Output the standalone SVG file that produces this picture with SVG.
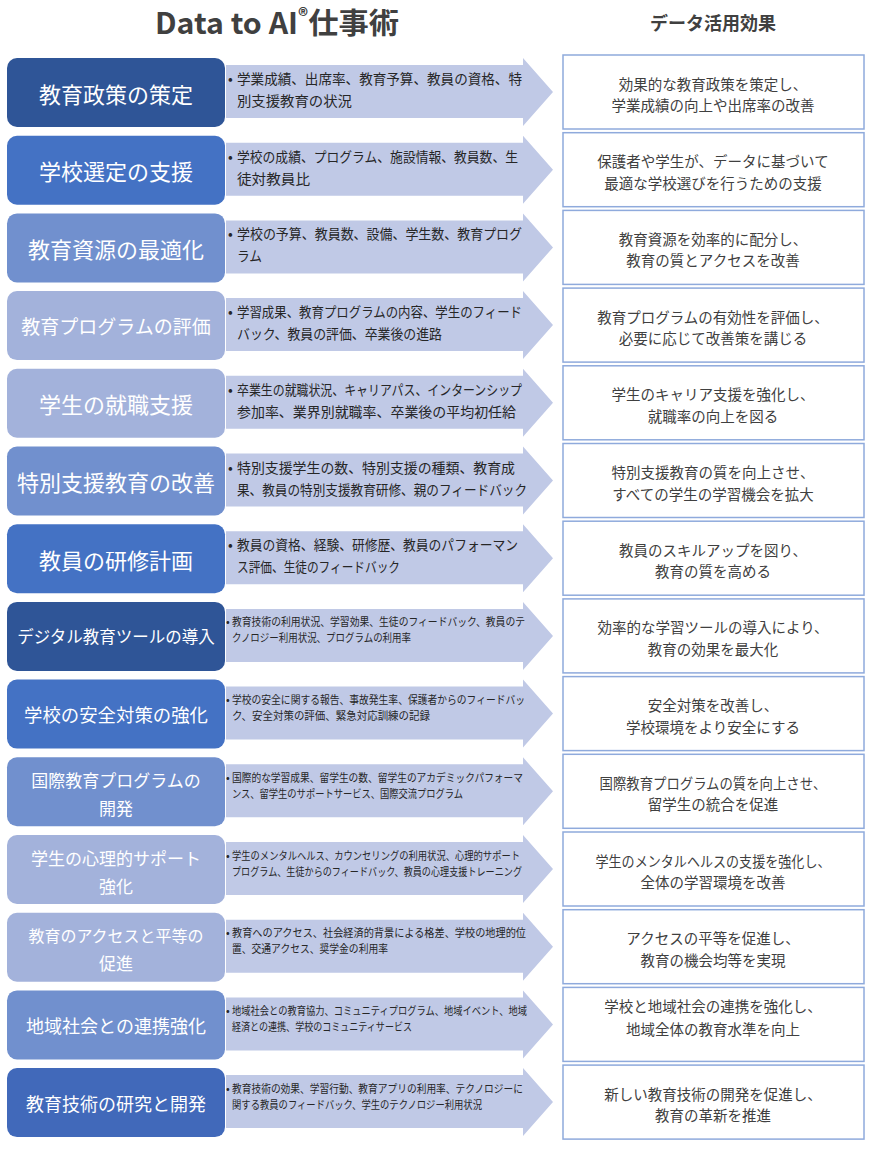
<svg xmlns="http://www.w3.org/2000/svg" xmlns:xlink="http://www.w3.org/1999/xlink" width="872" height="1149" viewBox="0 0 872 1149">
<defs>
<style>
text{font-family:"Noto Sans CJK JP","Noto Sans",sans-serif;dominant-baseline:central}
.title{font-weight:bold;fill:#404040;text-anchor:middle}
.lb{fill:#fff;text-anchor:middle}
.d{fill:#262626;font-size:14px}
.ds{fill:#262626;font-size:11px}
.r{fill:#404040;font-size:14.5px;text-anchor:middle}
.rb{fill:#fff;stroke:#8FAADC;stroke-width:1.5}
.arr{fill:#C0C9E6}
.c1{fill:#2F5597}.c2{fill:#4472C4}.c3{fill:#7190CE}.c4{fill:#A3B2DB}.c5{fill:#4169BA}
</style>
<path id="arrow" d="M226,7 H523 V0 L553,34 L523,68 V60 H226 Z"/>
</defs>
<rect width="872" height="1149" fill="#fff"/>
<g id="header">
<text class="title" x="277" y="21" font-size="29" textLength="244" lengthAdjust="spacingAndGlyphs">Data to AI<tspan font-size="19" dy="-7">®</tspan><tspan dy="7">仕事術</tspan></text>
<text class="title" x="713" y="22" font-size="18">データ活用効果</text>
</g>
<g id="connectors" class="arr">
<use xlink:href="#arrow" y="58"/>
<use xlink:href="#arrow" y="135.7"/>
<use xlink:href="#arrow" y="213.4"/>
<use xlink:href="#arrow" y="291.1"/>
<use xlink:href="#arrow" y="368.8"/>
<use xlink:href="#arrow" y="446.5"/>
<use xlink:href="#arrow" y="524.2"/>
<use xlink:href="#arrow" y="601.9"/>
<use xlink:href="#arrow" y="679.6"/>
<use xlink:href="#arrow" y="757.3"/>
<use xlink:href="#arrow" y="835"/>
<use xlink:href="#arrow" y="912.7"/>
<use xlink:href="#arrow" y="990.4"/>
<use xlink:href="#arrow" y="1068.1"/>
</g>

<!-- Row 1 -->
<g id="node-1"><rect class="c1" x="7" y="58" width="218" height="69" rx="10"/><text class="lb" x="116" y="92.5" font-size="22">教育政策の策定</text></g>
<g id="data-1"><text class="d" x="228" y="78">•</text><text class="d" x="237" y="78" textLength="285" lengthAdjust="spacingAndGlyphs">学業成績、出席率、教育予算、教員の資格、特</text><text class="d" x="237" y="100" textLength="115" lengthAdjust="spacingAndGlyphs">別支援教育の状況</text></g>
<g id="effect-1"><rect class="rb" x="563" y="55" width="301" height="74"/><text class="r" x="713" y="83">効果的な教育政策を策定し、</text><text class="r" x="713" y="104.5">学業成績の向上や出席率の改善</text></g>

<!-- Row 2 -->
<g id="node-2"><rect class="c2" x="7" y="135.7" width="218" height="69" rx="10"/><text class="lb" x="116" y="170.2" font-size="22">学校選定の支援</text></g>
<g id="data-2"><text class="d" x="228" y="155.7">•</text><text class="d" x="237" y="155.7" textLength="281" lengthAdjust="spacingAndGlyphs">学校の成績、プログラム、施設情報、教員数、生</text><text class="d" x="237" y="177.7" textLength="73" lengthAdjust="spacingAndGlyphs">徒対教員比</text></g>
<g id="effect-2"><rect class="rb" x="563" y="132.7" width="301" height="74"/><text class="r" x="713" y="160.7">保護者や学生が、データに基づいて</text><text class="r" x="713" y="182.2">最適な学校選びを行うための支援</text></g>

<!-- Row 3 -->
<g id="node-3"><rect class="c3" x="7" y="213.4" width="218" height="69" rx="10"/><text class="lb" x="116" y="247.9" font-size="22">教育資源の最適化</text></g>
<g id="data-3"><text class="d" x="228" y="233.4">•</text><text class="d" x="237" y="233.4" textLength="285" lengthAdjust="spacingAndGlyphs">学校の予算、教員数、設備、学生数、教育プログ</text><text class="d" x="237" y="255.4" textLength="25" lengthAdjust="spacingAndGlyphs">ラム</text></g>
<g id="effect-3"><rect class="rb" x="563" y="210.4" width="301" height="74"/><text class="r" x="713" y="238.4">教育資源を効率的に配分し、</text><text class="r" x="713" y="259.9">教育の質とアクセスを改善</text></g>

<!-- Row 4 -->
<g id="node-4"><rect class="c4" x="7" y="291.1" width="218" height="69" rx="10"/><text class="lb" x="116" y="325.6" font-size="19">教育プログラムの評価</text></g>
<g id="data-4"><text class="d" x="228" y="311.1">•</text><text class="d" x="237" y="311.1" textLength="285" lengthAdjust="spacingAndGlyphs">学習成果、教育プログラムの内容、学生のフィード</text><text class="d" x="237" y="333.1" textLength="205" lengthAdjust="spacingAndGlyphs">バック、教員の評価、卒業後の進路</text></g>
<g id="effect-4"><rect class="rb" x="563" y="288.1" width="301" height="74"/><text class="r" x="713" y="316.1">教育プログラムの有効性を評価し、</text><text class="r" x="713" y="337.6">必要に応じて改善策を講じる</text></g>

<!-- Row 5 -->
<g id="node-5"><rect class="c4" x="7" y="368.8" width="218" height="69" rx="10"/><text class="lb" x="116" y="403.3" font-size="22">学生の就職支援</text></g>
<g id="data-5"><text class="d" x="228" y="388.8">•</text><text class="d" x="237" y="388.8" textLength="285" lengthAdjust="spacingAndGlyphs">卒業生の就職状況、キャリアパス、インターンシップ</text><text class="d" x="237" y="410.8" textLength="279" lengthAdjust="spacingAndGlyphs">参加率、業界別就職率、卒業後の平均初任給</text></g>
<g id="effect-5"><rect class="rb" x="563" y="365.8" width="301" height="74"/><text class="r" x="713" y="393.8">学生のキャリア支援を強化し、</text><text class="r" x="713" y="415.3">就職率の向上を図る</text></g>

<!-- Row 6 -->
<g id="node-6"><rect class="c3" x="7" y="446.5" width="218" height="69" rx="10"/><text class="lb" x="116" y="481" font-size="22">特別支援教育の改善</text></g>
<g id="data-6"><text class="d" x="228" y="466.5">•</text><text class="d" x="237" y="466.5" textLength="278" lengthAdjust="spacingAndGlyphs">特別支援学生の数、特別支援の種類、教育成</text><text class="d" x="237" y="488.5" textLength="290" lengthAdjust="spacingAndGlyphs">果、教員の特別支援教育研修、親のフィードバック</text></g>
<g id="effect-6"><rect class="rb" x="563" y="443.5" width="301" height="74"/><text class="r" x="713" y="471.5">特別支援教育の質を向上させ、</text><text class="r" x="713" y="493">すべての学生の学習機会を拡大</text></g>

<!-- Row 7 -->
<g id="node-7"><rect class="c2" x="7" y="524.2" width="218" height="69" rx="10"/><text class="lb" x="116" y="558.7" font-size="22">教員の研修計画</text></g>
<g id="data-7"><text class="d" x="228" y="544.2">•</text><text class="d" x="237" y="544.2" textLength="281" lengthAdjust="spacingAndGlyphs">教員の資格、経験、研修歴、教員のパフォーマン</text><text class="d" x="237" y="566.2" textLength="163" lengthAdjust="spacingAndGlyphs">ス評価、生徒のフィードバック</text></g>
<g id="effect-7"><rect class="rb" x="563" y="521.2" width="301" height="74"/><text class="r" x="713" y="549.2">教員のスキルアップを図り、</text><text class="r" x="713" y="570.7">教育の質を高める</text></g>

<!-- Row 8 -->
<g id="node-8"><rect class="c1" x="7" y="601.9" width="218" height="69" rx="10"/><text class="lb" x="116" y="636.4" font-size="16.5">デジタル教育ツールの導入</text></g>
<g id="data-8"><text class="ds" x="226" y="621.4">•</text><text class="ds" x="232" y="621.4" textLength="293" lengthAdjust="spacingAndGlyphs">教育技術の利用状況、学習効果、生徒のフィードバック、教員のテ</text><text class="ds" x="232" y="637.4" textLength="179" lengthAdjust="spacingAndGlyphs">クノロジー利用状況、プログラムの利用率</text></g>
<g id="effect-8"><rect class="rb" x="563" y="598.9" width="301" height="74"/><text class="r" x="713" y="626.9">効率的な学習ツールの導入により、</text><text class="r" x="713" y="648.4">教育の効果を最大化</text></g>

<!-- Row 9 -->
<g id="node-9"><rect class="c2" x="7" y="679.6" width="218" height="69" rx="10"/><text class="lb" x="116" y="714.1" font-size="18.4">学校の安全対策の強化</text></g>
<g id="data-9"><text class="ds" x="226" y="699.1">•</text><text class="ds" x="232" y="699.1" textLength="293" lengthAdjust="spacingAndGlyphs">学校の安全に関する報告、事故発生率、保護者からのフィードバッ</text><text class="ds" x="232" y="715.1" textLength="198" lengthAdjust="spacingAndGlyphs">ク、安全対策の評価、緊急対応訓練の記録</text></g>
<g id="effect-9"><rect class="rb" x="563" y="676.6" width="301" height="74"/><text class="r" x="713" y="704.6">安全対策を改善し、</text><text class="r" x="713" y="726.1">学校環境をより安全にする</text></g>

<!-- Row 10 -->
<g id="node-10"><rect class="c3" x="7" y="757.3" width="218" height="69" rx="10"/><text class="lb" x="116" y="779.3" font-size="17">国際教育プログラムの</text><text class="lb" x="116" y="807.3" font-size="17">開発</text></g>
<g id="data-10"><text class="ds" x="226" y="776.8">•</text><text class="ds" x="232" y="776.8" textLength="291" lengthAdjust="spacingAndGlyphs">国際的な学習成果、留学生の数、留学生のアカデミックパフォーマ</text><text class="ds" x="232" y="792.8" textLength="231" lengthAdjust="spacingAndGlyphs">ンス、留学生のサポートサービス、国際交流プログラム</text></g>
<g id="effect-10"><rect class="rb" x="563" y="754.3" width="301" height="74"/><text class="r" x="713" y="782.3" textLength="227" lengthAdjust="spacingAndGlyphs">国際教育プログラムの質を向上させ、</text><text class="r" x="713" y="803.8">留学生の統合を促進</text></g>

<!-- Row 11 -->
<g id="node-11"><rect class="c4" x="7" y="835" width="218" height="69" rx="10"/><text class="lb" x="116" y="857" font-size="17">学生の心理的サポート</text><text class="lb" x="116" y="885" font-size="17">強化</text></g>
<g id="data-11"><text class="ds" x="226" y="854.5">•</text><text class="ds" x="232" y="854.5" textLength="288" lengthAdjust="spacingAndGlyphs">学生のメンタルヘルス、カウンセリングの利用状況、心理的サポート</text><text class="ds" x="232" y="870.5" textLength="290" lengthAdjust="spacingAndGlyphs">プログラム、生徒からのフィードバック、教員の心理支援トレーニング</text></g>
<g id="effect-11"><rect class="rb" x="563" y="832" width="301" height="74"/><text class="r" x="713" y="860" textLength="235" lengthAdjust="spacingAndGlyphs">学生のメンタルヘルスの支援を強化し、</text><text class="r" x="713" y="881.5">全体の学習環境を改善</text></g>

<!-- Row 12 -->
<g id="node-12"><rect class="c4" x="7" y="912.7" width="218" height="69" rx="10"/><text class="lb" x="116" y="934.7" font-size="16">教育のアクセスと平等の</text><text class="lb" x="116" y="962.7" font-size="17">促進</text></g>
<g id="data-12"><text class="ds" x="226" y="932.2">•</text><text class="ds" x="232" y="932.2" textLength="294" lengthAdjust="spacingAndGlyphs">教育へのアクセス、社会経済的背景による格差、学校の地理的位</text><text class="ds" x="232" y="948.2" textLength="156" lengthAdjust="spacingAndGlyphs">置、交通アクセス、奨学金の利用率</text></g>
<g id="effect-12"><rect class="rb" x="563" y="909.7" width="301" height="74"/><text class="r" x="713" y="937.7">アクセスの平等を促進し、</text><text class="r" x="713" y="959.2">教育の機会均等を実現</text></g>

<!-- Row 13 -->
<g id="node-13"><rect class="c3" x="7" y="990.4" width="218" height="69" rx="10"/><text class="lb" x="116" y="1024.9" font-size="18">地域社会との連携強化</text></g>
<g id="data-13"><text class="ds" x="226" y="1009.9">•</text><text class="ds" x="232" y="1009.9" textLength="295" lengthAdjust="spacingAndGlyphs">地域社会との教育協力、コミュニティプログラム、地域イベント、地域</text><text class="ds" x="232" y="1025.9" textLength="180" lengthAdjust="spacingAndGlyphs">経済との連携、学校のコミュニティサービス</text></g>
<g id="effect-13"><rect class="rb" x="563" y="987.4" width="301" height="74"/><text class="r" x="713" y="1005.4">学校と地域社会の連携を強化し、</text><text class="r" x="713" y="1028.4">地域全体の教育水準を向上</text></g>

<!-- Row 14 -->
<g id="node-14"><rect class="c5" x="7" y="1068.1" width="218" height="69" rx="10"/><text class="lb" x="116" y="1102.6" font-size="18">教育技術の研究と開発</text></g>
<g id="data-14"><text class="ds" x="226" y="1087.6">•</text><text class="ds" x="232" y="1087.6" textLength="291" lengthAdjust="spacingAndGlyphs">教育技術の効果、学習行動、教育アプリの利用率、テクノロジーに</text><text class="ds" x="232" y="1103.6" textLength="250" lengthAdjust="spacingAndGlyphs">関する教員のフィードバック、学生のテクノロジー利用状況</text></g>
<g id="effect-14"><rect class="rb" x="563" y="1065.1" width="301" height="74"/><text class="r" x="713" y="1093.1">新しい教育技術の開発を促進し、</text><text class="r" x="713" y="1114.6">教育の革新を推進</text></g>
</svg>
